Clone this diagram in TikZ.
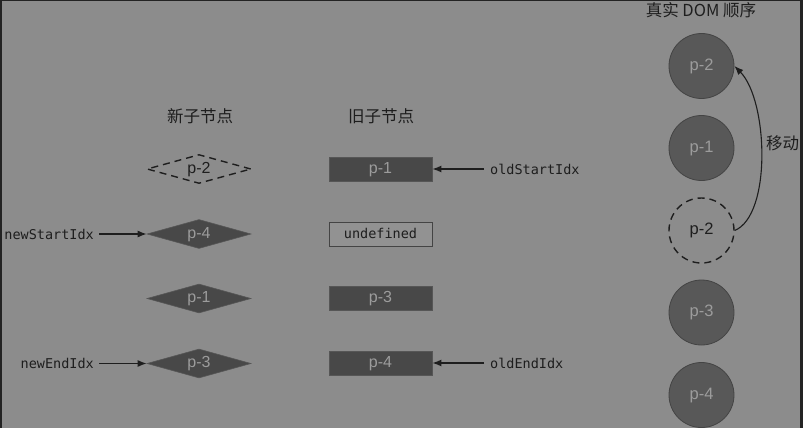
\documentclass[tikz,border=0pt]{standalone}
\usepackage{fontspec}
\setmainfont{Liberation Sans}
\newfontfamily\cjk{Noto Sans CJK SC}
\newfontfamily\monof{DejaVu Sans Mono}
\usetikzlibrary{shapes.geometric,arrows.meta}
\definecolor{bgc}{HTML}{8C8C8C}
\definecolor{framec}{HTML}{232323}
\definecolor{darkfill}{HTML}{484848}
\definecolor{darkedge}{HTML}{565656}
\definecolor{circfill}{HTML}{585858}
\definecolor{circedge}{HTML}{444444}
\definecolor{lighttxt}{HTML}{9C9C9C}
\definecolor{inktxt}{HTML}{1E1E1E}
\tikzset{
  ctext/.style={text height=0.86em, text depth=0pt},
  dia/.style={diamond, aspect=3.6, minimum width=104pt, minimum height=29pt, inner sep=0pt,
    fill=darkfill, draw=darkedge, line width=0.6pt, text=lighttxt, font=\fontsize{16}{16}\selectfont, ctext},
  diadash/.style={dia, fill=bgc, draw=inktxt, dash pattern=on 7pt off 5pt, line width=1.4pt, text=inktxt},
  rbox/.style={rectangle, minimum width=103pt, minimum height=24pt, inner sep=0pt,
    fill=darkfill, draw=darkedge, line width=0.8pt, text=lighttxt, font=\fontsize{16}{16}\selectfont, ctext},
  rboxlight/.style={rbox, fill=bgc!95!white, draw=circedge, text=inktxt, font=\monof\fontsize{13.5}{13.5}\selectfont,
    text height=0.9em, text depth=0pt},
  circ/.style={circle, minimum size=65pt, inner sep=0pt, fill=circfill, draw=circedge, line width=0.8pt,
    text=lighttxt, font=\fontsize{16.5}{16.5}\selectfont, ctext},
  circdash/.style={circ, fill=bgc, draw=inktxt, dash pattern=on 7pt off 5pt, line width=1.4pt, text=inktxt},
  idx/.style={inner sep=0pt, text=inktxt, font=\monof\fontsize{13.5}{13.5}\selectfont},
  head/.style={inner sep=0pt, text=inktxt, font=\cjk\fontsize{16.5}{16.5}\selectfont},
  ptr/.style={-{Latex[length=9pt,width=7pt]}, line width=1.3pt, draw=inktxt}
}
\begin{document}
\begin{tikzpicture}[x=1pt,y=-1pt]
\useasboundingbox (0,0) rectangle (803,428);
\fill[framec] (0,0) rectangle (803,428);
\fill[bgc] (2,1) rectangle (800,428);

% headings
\node[head] (hnew) at (200,116.5) {新子节点};
\node[head] (hold) at (381,116.5) {旧子节点};
\node[head] (hdom) at (701,10) {真实 DOM 顺序};

% new children
\node[diadash] (n1) at (199,169) {p-2};
\node[dia] (n2) at (199,234) {p-4};
\node[dia] (n3) at (199,298.5) {p-1};
\node[dia] (n4) at (199,363.5) {p-3};

% old children
\node[rbox] (o1) at (380.5,169) {p-1};
\node[rboxlight] (o2) at (380.5,234) {undefined};
\node[rbox] (o3) at (380.5,298.5) {p-3};
\node[rbox] (o4) at (380.5,363) {p-4};

% real DOM
\node[circ] (d1) at (701.5,66) {p-2};
\node[circ] (d2) at (701.5,148) {p-1};
\node[circdash] (d3) at (701.5,230.5) {p-2};
\node[circ] (d4) at (701.5,312.5) {p-3};
\node[circ] (d5) at (701.5,395) {p-4};

% index labels
\node[idx, anchor=east] (nsi) at (94,234) {newStartIdx};
\node[idx, anchor=east] (nei) at (94,363.5) {newEndIdx};
\node[idx, anchor=west] (osi) at (490,169) {oldStartIdx};
\node[idx, anchor=west] (oei) at (490,363) {oldEndIdx};

\draw[ptr, shorten <=5pt] (nsi.east) -- (n2.west);
\draw[ptr, shorten <=5pt] (nei.east) -- (n4.west);
\draw[ptr, shorten <=6pt] (osi.west) -- (o1.east);
\draw[ptr, shorten <=6pt] (oei.west) -- (o4.east);

% move arrow
\draw[ptr, line width=1.1pt] (d3.east) .. controls (772,215) and (768,100) .. (d1.east);
\node[head, anchor=west] (mv) at (766,143) {移动};
\end{tikzpicture}
\end{document}
